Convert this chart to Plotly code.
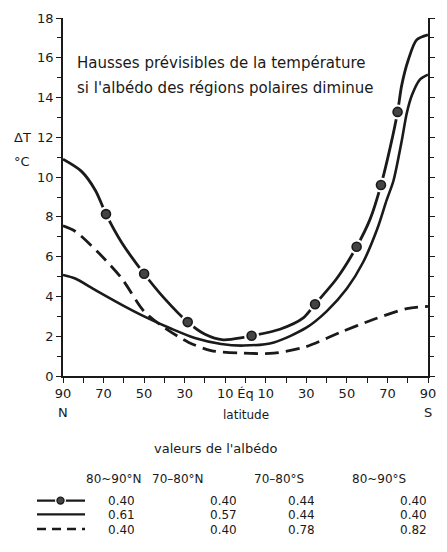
import plotly.graph_objects as go

# ---------------- data (latitude: negative = North, positive = South) -------------
lat_dot = [-90, -81, -74, -68.8, -61, -50, -40, -28.5, -20, -11, -1, 3, 17, 28.5, 34.3, 45, 54.8, 61.5, 66.8, 71.3, 75, 77, 80.3, 84.4, 90]
val_dot = [10.9, 10.3, 9.33, 8.14, 6.7, 5.14, 3.9, 2.71, 2.1, 1.82, 1.94, 2.02, 2.35, 2.92, 3.61, 4.9, 6.5, 7.9, 9.6, 11.47, 13.28, 14.6, 15.9, 16.9, 17.15]
mark_lat = [-68.8, -50, -28.5, 3, 34.3, 54.8, 66.8, 75]
mark_val = [8.14, 5.14, 2.71, 2.02, 3.61, 6.5, 9.6, 13.28]

lat_solid = [-90, -84, -74, -61, -50, -36, -25, -12, -1, 14, 30, 40, 50, 58, 65, 69.6, 73, 77, 79.5, 82, 86, 90]
val_solid = [5.08, 4.9, 4.32, 3.58, 3.0, 2.35, 1.91, 1.61, 1.53, 1.69, 2.43, 3.25, 4.4, 5.72, 7.4, 8.84, 9.83, 11.8, 13.2, 14.1, 14.9, 15.15]

lat_dash = [-90, -84, -72.6, -61, -50, -40, -28, -17, -1, 14, 30, 46.6, 63, 79.5, 90]
val_dash = [7.55, 7.28, 6.21, 4.9, 3.25, 2.43, 1.69, 1.28, 1.15, 1.15, 1.48, 2.19, 2.84, 3.39, 3.5]

xtick_vals = [-90, -70, -50, -30, -10, 0, 10, 30, 50, 70, 90]
xtick_text = ["90", "70", "50", "30", "10", "Éq", "10", "30", "50", "70", "90"]
ytick_vals = [0, 2, 4, 6, 8, 10, 12, 14, 16, 18]

title_lines = ["Hausses prévisibles de la température", "si l'albédo des régions polaires diminue"]
col_headers = ["80~90°N", "70–80°N", "70–80°S", "80~90°S"]
albedo_dot = ["0.40", "0.40", "0.44", "0.40"]
albedo_solid = ["0.61", "0.57", "0.44", "0.40"]
albedo_dash = ["0.40", "0.40", "0.78", "0.82"]

# ---------------- layout geometry helpers ----------------
W, H = 447, 552
L, R, T, B = 63, 428, 11, 376
FONT = "DejaVu Sans"
INK = "#1a1a1a"


def px(x):
    return (x - L) / (R - L)


def py(y):
    return (B - y) / (B - T)


def txt(x, y, text, size, anchor="center", h=None):
    d = dict(x=px(x), y=py(y), xref="paper", yref="paper", text=text, showarrow=False,
             xanchor=anchor, yanchor="middle", font=dict(family=FONT, size=size, color=INK))
    if h is not None:
        d["height"] = h
        d["valign"] = "middle"
    return d


fig = go.Figure()

fig.add_trace(go.Scatter(x=lat_dash, y=val_dash, mode="lines", line=dict(color=INK, width=2.8, dash="14px,7px", shape="spline", smoothing=0.8), hoverinfo="skip"))
fig.add_trace(go.Scatter(x=lat_solid, y=val_solid, mode="lines", line=dict(color=INK, width=2.6, shape="spline", smoothing=0.8), hoverinfo="skip"))
fig.add_trace(go.Scatter(x=lat_dot, y=val_dot, mode="lines", line=dict(color=INK, width=2.8, shape="spline", smoothing=0.8), hoverinfo="skip"))
fig.add_trace(go.Scatter(x=mark_lat, y=mark_val, mode="markers", marker=dict(color="white", size=15, line=dict(width=0)), hoverinfo="skip"))
fig.add_trace(go.Scatter(x=mark_lat, y=mark_val, mode="markers", marker=dict(color="#444", size=9, line=dict(color=INK, width=1.6)), hoverinfo="skip"))

annotations = []
for i, t in enumerate(title_lines):
    annotations.append(txt(75, 57 + 25 * i, t, 15, anchor="left"))
annotations.append(txt(22, 133, "ΔT", 13))
annotations.append(txt(22, 157, "°C", 13))
annotations.append(txt(63, 413, "N", 13))
annotations.append(txt(428, 413, "S", 13))
annotations.append(txt(246, 416, "latitude", 12))
annotations.append(txt(215, 450, "valeurs de l'albédo", 13))
header_x = [114, 178, 279, 379]
value_x = [121, 223, 301, 413]
for hx, h in zip(header_x, col_headers):
    annotations.append(txt(hx, 481, h, 12))
row_y = [503, 517, 532]
for ry, row in zip(row_y, [albedo_dot, albedo_solid, albedo_dash]):
    for vx, v in zip(value_x, row):
        annotations.append(txt(vx, ry, v, 12, h=13))

shapes = []
shapes.append(dict(type="line", xref="paper", yref="paper", x0=px(37), x1=px(85), y0=py(503), y1=py(503), line=dict(color=INK, width=2.2)))
shapes.append(dict(type="circle", xref="paper", yref="paper", x0=px(55), x1=px(66), y0=py(497.5), y1=py(508.5), fillcolor="white", line=dict(color="white", width=0)))
shapes.append(dict(type="circle", xref="paper", yref="paper", x0=px(57), x1=px(64), y0=py(499.5), y1=py(506.5), fillcolor="#444", line=dict(color=INK, width=1.4)))
shapes.append(dict(type="line", xref="paper", yref="paper", x0=px(37), x1=px(85), y0=py(517), y1=py(517), line=dict(color=INK, width=2.2)))
shapes.append(dict(type="line", xref="paper", yref="paper", x0=px(37), x1=px(85), y0=py(532), y1=py(532), line=dict(color=INK, width=2.4, dash="9px,6px")))

fig.update_layout(
    width=W, height=H,
    margin=dict(l=L, r=W - R, t=T, b=H - B, pad=0),
    paper_bgcolor="white", plot_bgcolor="white",
    showlegend=False,
    font=dict(family=FONT, size=13, color=INK),
    annotations=annotations, shapes=shapes,
    xaxis=dict(range=[-90, 90], tickmode="array", tickvals=xtick_vals, ticktext=xtick_text, tickangle=0,
               showgrid=False, zeroline=False, showline=True, linecolor=INK, linewidth=1.5,
               ticks="outside", ticklen=5, tickcolor=INK, tickwidth=1.3, mirror=False,
               minor=dict(dtick=10, tick0=0, ticks="outside", ticklen=5, tickcolor=INK, tickwidth=1.3),
               tickfont=dict(family=FONT, size=13, color=INK), fixedrange=True),
    yaxis=dict(range=[0, 18], tickmode="array", tickvals=ytick_vals, showgrid=False, zeroline=False,
               showline=True, linecolor=INK, linewidth=1.5, mirror="ticks",
               ticks="outside", ticklen=5, tickcolor=INK, tickwidth=1.3,
               minor=dict(dtick=1, tick0=0, ticks="outside", ticklen=4, tickcolor=INK, tickwidth=1.2),
               tickfont=dict(family=FONT, size=13, color=INK), fixedrange=True),
)

fig.write_html("out.html")
